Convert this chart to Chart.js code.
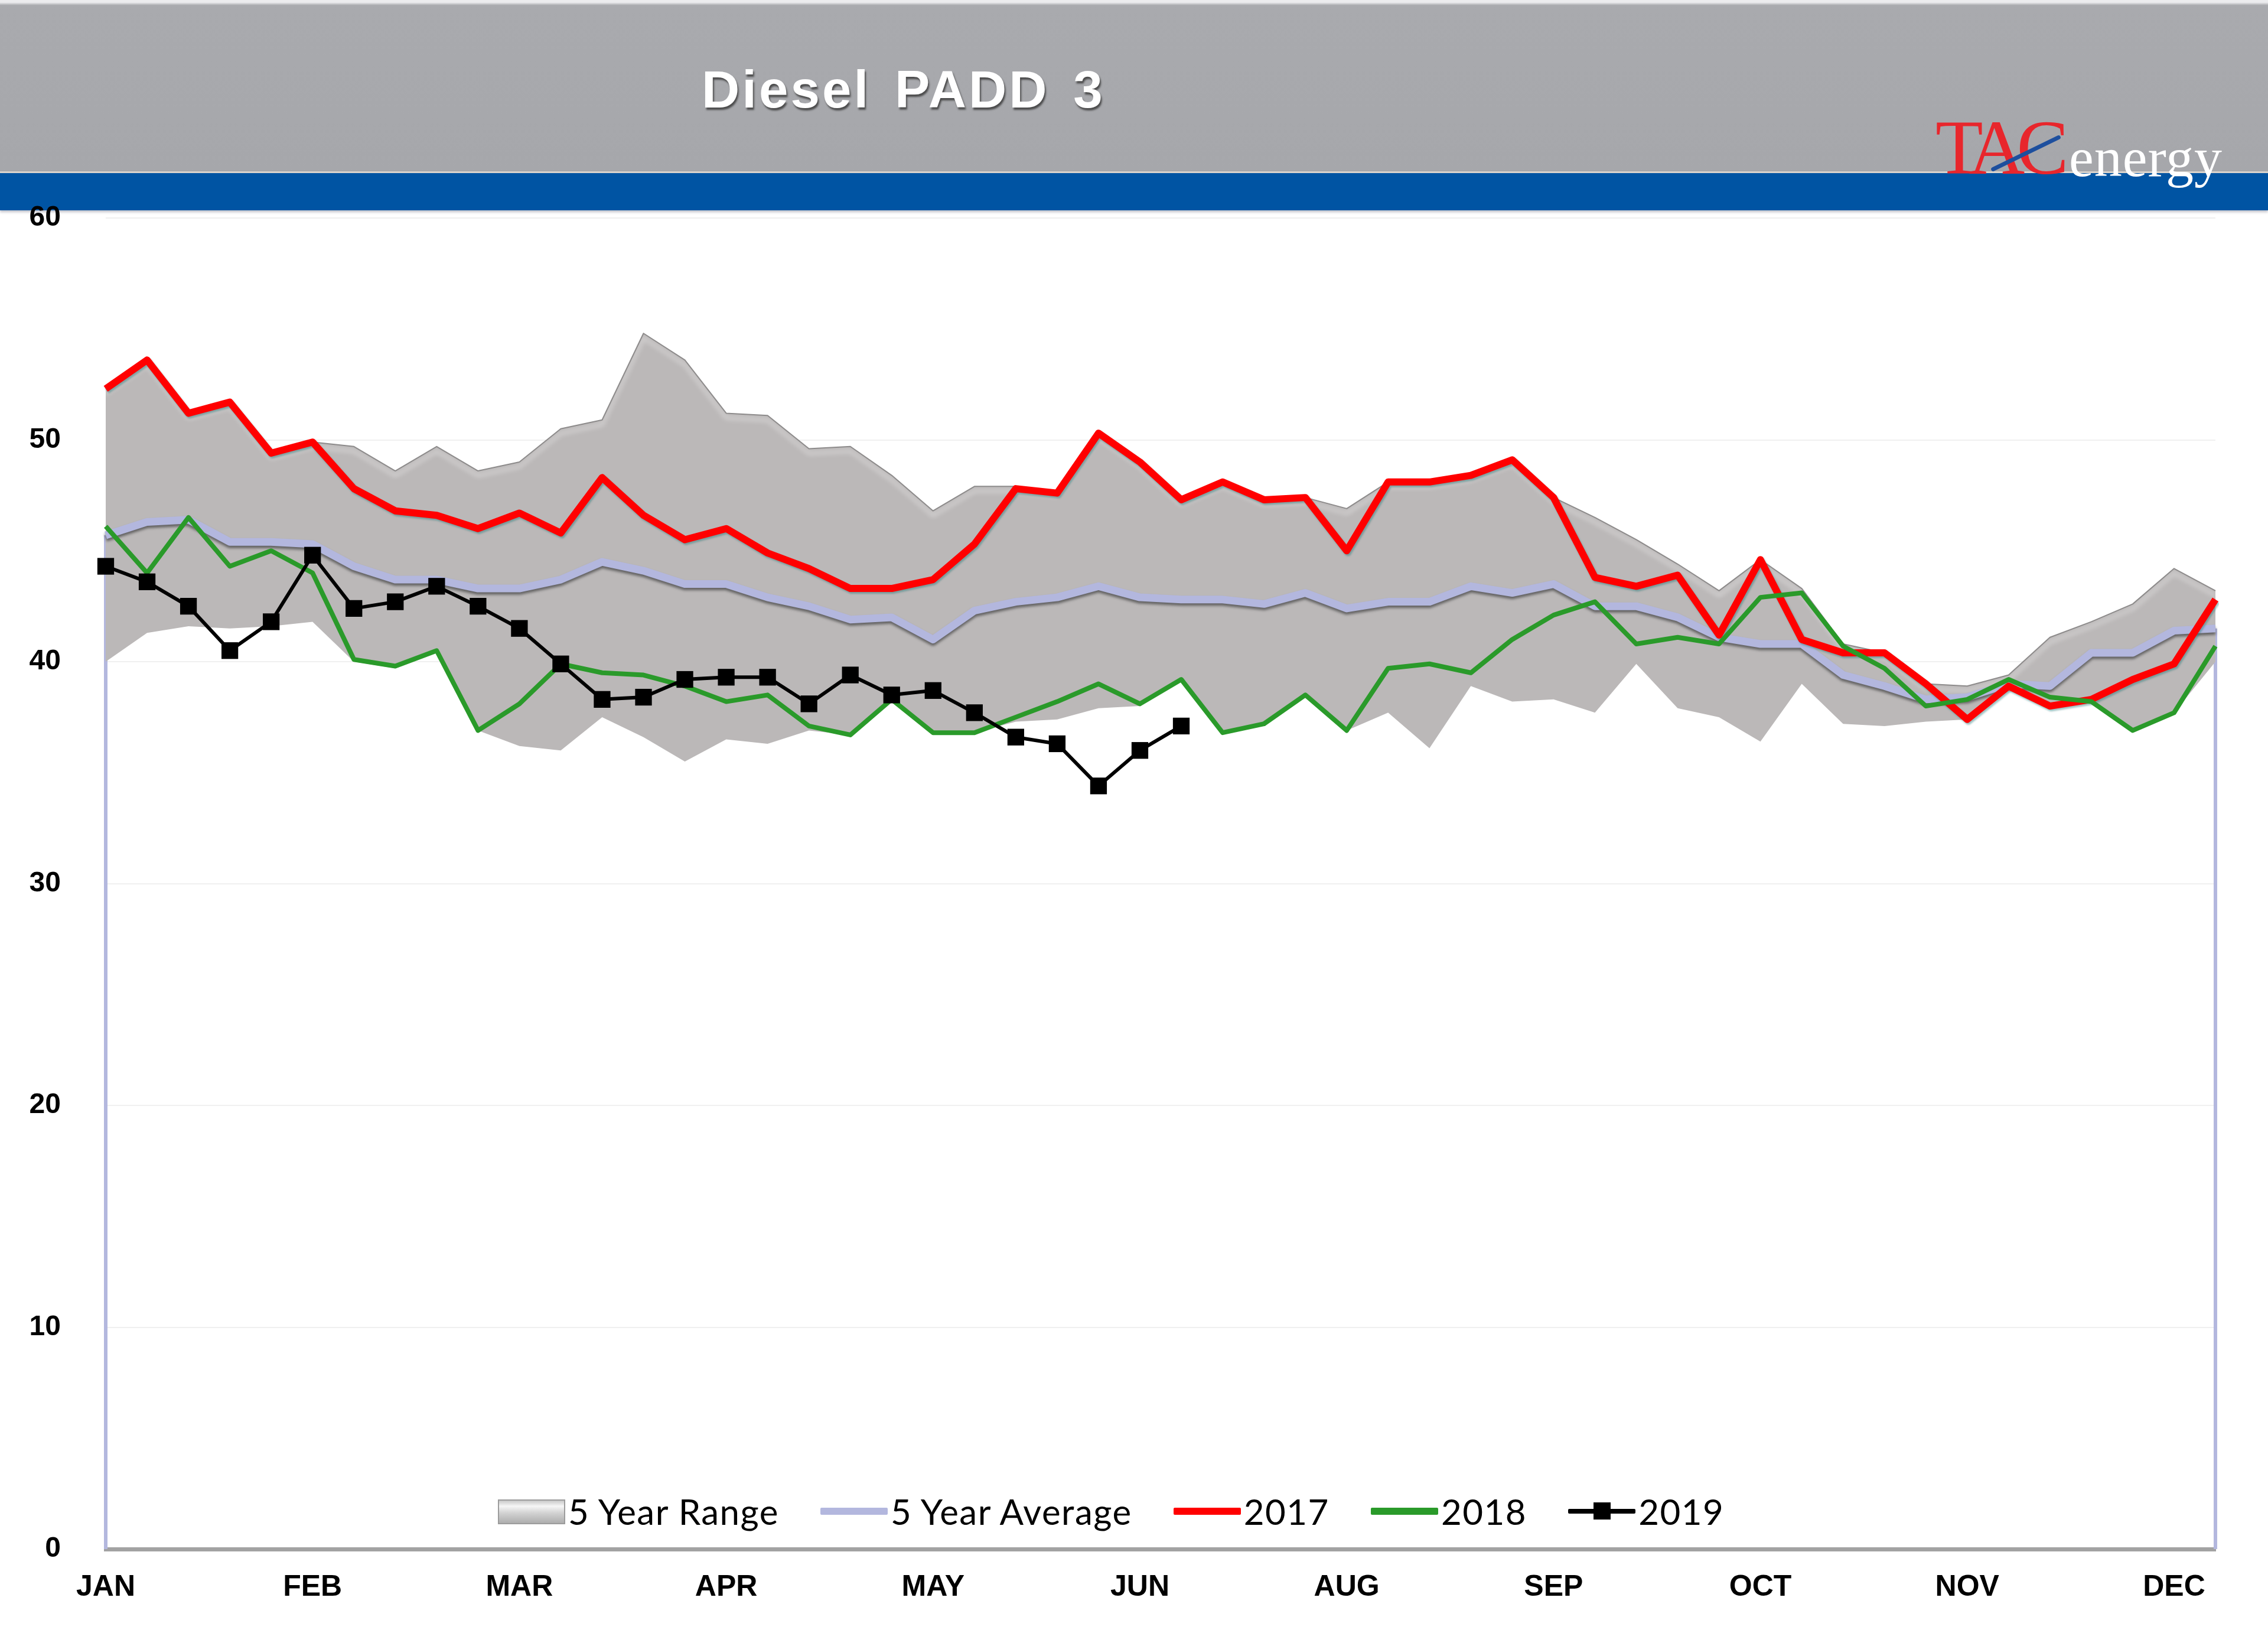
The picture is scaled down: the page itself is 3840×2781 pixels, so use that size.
<!DOCTYPE html>
<html>
<head>
<meta charset="utf-8">
<script src="https://cdn.jsdelivr.net/npm/chart.js@4.4.1/dist/chart.umd.min.js"></script>
<style>
  html, body { margin: 0; padding: 0; background: #ffffff; width: 3840px; height: 2781px; overflow: hidden; }
  #page { position: relative; width: 3840px; height: 2781px; }
  #hdr { position: absolute; left: 0; top: 0; width: 3840px; height: 290px;
         background: linear-gradient(#ececee 0px, #ececee 4px, #a9aaae 9px, #a6a7ab 100%); }
  #band { position: absolute; left: 0; top: 290px; width: 3840px; height: 63px; background: #0054a3;
          border-top: 3px solid #d9d3cc; box-shadow: 0 3px 4px rgba(120,120,140,0.45); }
  #title { position: absolute; left: 1188px; top: 107px; font: bold 89px "Liberation Sans", Arial, sans-serif;
           line-height: 89px; color: #ffffff; letter-spacing: 4px; word-spacing: 12px; white-space: pre;
           text-shadow: 2px 4px 3px rgba(60,60,60,0.85); }
  #logo { position: absolute; left: 3277px; top: 184px; height: 130px; white-space: nowrap; }
  #tac { position: absolute; left: 0; top: 0; font: 132px "Liberation Serif", "Times New Roman", serif;
         line-height: 132px; color: #e8262c; letter-spacing: -14px; }
  #energy { position: absolute; left: 226px; top: 35px; font: 94px "Liberation Serif", "Times New Roman", serif;
            line-height: 94px; color: #ffffff; letter-spacing: 1px; }
  #swoosh { position: absolute; left: 88px; top: 72px; width: 130px; height: 7px; background: #1d4f9e;
            transform: rotate(-26deg); border-radius: 4px; }
  #c { position: absolute; left: 0; top: 0; }
  #legend { position: absolute; left: 843px; top: 2528px; height: 60px; display: flex; align-items: center;
            font: 60px Lato, "Open Sans", sans-serif; letter-spacing: 1.5px; color: #000; white-space: nowrap; }
  .item { display: flex; align-items: center; margin-right: 70px; }
  .icon { position: relative; width: 114px; height: 40px; margin-right: 5px; }
  .box { position: absolute; left: 0; top: 0; width: 110px; height: 38px; border: 2px solid #9c9c9c;
         background: linear-gradient(#c9c9c9 0%, #f6f6f6 25%, #d2d2d2 55%, #aeaeae 100%); }
  .ln { position: absolute; left: 0; top: 14px; width: 114px; height: 12px; border-radius: 2px; }
  .mk { position: absolute; left: 43px; top: 5px; width: 29px; height: 29px; background: #000; }
</style>
</head>
<body>
<div id="page">
  <div id="hdr"></div>
  <div id="band"></div>
  <div id="title">Diesel PADD 3</div>
  <div id="logo"><span id="tac">TAC</span><div id="swoosh"></div><span id="energy">energy</span></div>
  <canvas id="c" width="3840" height="2781"></canvas>
  <div id="legend"></div>
</div>
<script>
// ---------- data ----------
const monthTicks = ['JAN', 'FEB', 'MAR', 'APR', 'MAY', 'JUN', 'AUG', 'SEP', 'OCT', 'NOV', 'DEC'];
const weekCount = 52;
const tickEvery = 5;
const yTicks = [0, 10, 20, 30, 40, 50, 60];
const seriesNames = ['5 Year Range', '5 Year Average', '2017', '2018', '2019'];

const rangeMax = [52.3, 53.6, 51.2, 51.7, 49.4, 49.9, 49.7, 48.6, 49.7, 48.6,
                  49.0, 50.5, 50.9, 54.8, 53.6, 51.2, 51.1, 49.6, 49.7, 48.4,
                  46.8, 47.9, 47.9, 47.7, 50.3, 49.0, 47.3, 48.1, 47.3, 47.4,
                  46.9, 48.1, 48.1, 48.4, 49.1, 47.4, 46.5, 45.5, 44.4, 43.2,
                  44.6, 43.3, 40.8, 40.4, 39.0, 38.9, 39.4, 41.1, 41.8, 42.6,
                  44.2, 43.2];
const rangeMin = [40.0, 41.3, 41.6, 41.5, 41.6, 41.8, 40.0, 39.7, 40.4, 36.9,
                  36.2, 36.0, 37.5, 36.6, 35.5, 36.5, 36.3, 36.9, 36.7, 38.3,
                  36.8, 36.8, 37.3, 37.4, 37.9, 38.0, 39.2, 36.8, 37.2, 38.5,
                  36.9, 37.7, 36.1, 38.9, 38.2, 38.3, 37.7, 39.9, 37.9, 37.5,
                  36.4, 39.0, 37.2, 37.1, 37.3, 37.4, 38.9, 38.0, 38.2, 36.9,
                  37.7, 40.0];
const avg5 = [45.7, 46.3, 46.4, 45.4, 45.4, 45.3, 44.3, 43.7, 43.7, 43.3,
              43.3, 43.7, 44.5, 44.1, 43.5, 43.5, 42.9, 42.5, 41.9, 42.0,
              41.0, 42.3, 42.7, 42.9, 43.4, 42.9, 42.8, 42.8, 42.6, 43.1,
              42.4, 42.7, 42.7, 43.4, 43.1, 43.5, 42.5, 42.5, 42.0, 41.1,
              40.8, 40.8, 39.4, 38.9, 38.3, 38.4, 39.0, 38.9, 40.4, 40.4,
              41.4, 41.5];
const y2017 = [52.3, 53.6, 51.2, 51.7, 49.4, 49.9, 47.8, 46.8, 46.6, 46.0,
               46.7, 45.8, 48.3, 46.6, 45.5, 46.0, 44.9, 44.2, 43.3, 43.3,
               43.7, 45.3, 47.8, 47.6, 50.3, 49.0, 47.3, 48.1, 47.3, 47.4,
               45.0, 48.1, 48.1, 48.4, 49.1, 47.4, 43.8, 43.4, 43.9, 41.2,
               44.6, 41.0, 40.4, 40.4, 39.0, 37.4, 38.9, 38.0, 38.3, 39.2,
               39.9, 42.8];
const y2018 = [46.1, 44.0, 46.5, 44.3, 45.0, 44.0, 40.1, 39.8, 40.5, 36.9,
               38.1, 39.9, 39.5, 39.4, 38.9, 38.2, 38.5, 37.1, 36.7, 38.3,
               36.8, 36.8, 37.5, 38.2, 39.0, 38.1, 39.2, 36.8, 37.2, 38.5,
               36.9, 39.7, 39.9, 39.5, 41.0, 42.1, 42.7, 40.8, 41.1, 40.8,
               42.9, 43.1, 40.7, 39.7, 38.0, 38.3, 39.2, 38.4, 38.2, 36.9,
               37.7, 40.7];
const y2019 = [44.3, 43.6, 42.5, 40.5, 41.8, 44.8, 42.4, 42.7, 43.4, 42.5,
               41.5, 39.9, 38.3, 38.4, 39.2, 39.3, 39.3, 38.1, 39.4, 38.5,
               38.7, 37.7, 36.6, 36.3, 34.4, 36.0, 37.1];

// category labels: month name on every 5th week, blank otherwise
const categories = Array.from({ length: weekCount }, (_, i) => (i % tickEvery === 0 ? monthTicks[i / tickEvery] : ''));

// ---------- styling helpers ----------
const AVG_COLOR = '#b3b7de';

const decor = {
  id: 'decor',
  beforeDatasetsDraw(chart) {
    // vertical edge lines of the average series down to the axis
    const { ctx, scales: { x, y } } = chart;
    ctx.save();
    ctx.strokeStyle = AVG_COLOR;
    ctx.lineWidth = 6;
    [0, avg5.length - 1].forEach((i) => {
      const px = x.getPixelForValue(i);
      ctx.beginPath();
      ctx.moveTo(px, y.getPixelForValue(avg5[i]));
      ctx.lineTo(px, y.getPixelForValue(0));
      ctx.stroke();
    });
    ctx.restore();
  },
  beforeDatasetDraw(chart, args) {
    const ds = chart.data.datasets[args.index];
    const ctx = chart.ctx;
    ctx.save();
    if (ds.shadow) {
      ctx.shadowColor = ds.shadow.color;
      ctx.shadowBlur = ds.shadow.blur;
      ctx.shadowOffsetX = ds.shadow.dx;
      ctx.shadowOffsetY = ds.shadow.dy;
    }
  },
  afterDatasetDraw(chart) {
    chart.ctx.restore();
  }
};

const chart = new Chart(document.getElementById('c'), {
  type: 'line',
  data: {
    labels: categories,
    datasets: [
      { label: seriesNames[0], data: rangeMax, fill: '+1', backgroundColor: '#bbb8b8',
        borderColor: '#8d8b8b', borderWidth: 2, pointRadius: 0, order: 10,
        shadow: { color: 'rgba(255,255,255,0.98)', blur: 8, dx: 0, dy: 8 } },
      { label: '', data: rangeMin, fill: false, borderColor: 'rgba(0,0,0,0)', borderWidth: 0,
        pointRadius: 0, order: 11 },
      { label: seriesNames[1], data: avg5, borderColor: AVG_COLOR, borderWidth: 13, pointRadius: 0, order: 4,
        shadow: { color: 'rgba(70,70,70,0.75)', blur: 4, dx: 0, dy: 4 } },
      { label: seriesNames[2], data: y2017, borderColor: '#ff0000', borderWidth: 12, pointRadius: 0, order: 3,
        shadow: { color: 'rgba(40,120,120,0.45)', blur: 3, dx: 2, dy: 3 } },
      { label: seriesNames[3], data: y2018, borderColor: '#2a9a2a', borderWidth: 8, pointRadius: 0, order: 2 },
      { label: seriesNames[4], data: y2019, borderColor: '#000000', borderWidth: 6, order: 1,
        pointStyle: 'rect', pointRadius: 20, pointBackgroundColor: '#000000', pointBorderWidth: 0 }
    ]
  },
  options: {
    responsive: false,
    devicePixelRatio: 1,
    animation: false,
    events: [],
    elements: { line: { tension: 0, borderJoinStyle: 'round', borderCapStyle: 'butt' } },
    layout: { padding: { left: 0, right: 89, top: 369, bottom: 0 } },
    plugins: { legend: { display: false }, tooltip: { enabled: false }, title: { display: false } },
    scales: {
      x: {
        type: 'category',
        offset: false,
        grid: { display: false, drawTicks: false },
        border: { display: true, color: '#a2a2a2', width: 7 },
        ticks: { autoSkip: false, maxRotation: 0, minRotation: 0, padding: 35, color: '#000',
                 font: { family: '"Liberation Sans", Arial, sans-serif', size: 50, weight: 'bold' } },
        afterFit(scale) { scale.height = 159; }
      },
      y: {
        min: 0, max: 60,
        grid: { color: '#f0f0f0', lineWidth: 2, drawTicks: false },
        border: { display: false },
        ticks: { padding: 76, color: '#000',
                 font: { family: '"Liberation Sans", Arial, sans-serif', size: 48, weight: 'bold' } },
        afterBuildTicks(scale) { scale.ticks = yTicks.map((v) => ({ value: v })); },
        afterFit(scale) { scale.width = 179; }
      }
    }
  },
  plugins: [decor]
});

// ---------- HTML legend built from the chart's datasets ----------
const legendSpec = [
  { index: 0, kind: 'box' },
  { index: 2, kind: 'line' },
  { index: 3, kind: 'line' },
  { index: 4, kind: 'line' },
  { index: 5, kind: 'marker' }
];
const legendEl = document.getElementById('legend');
legendSpec.forEach((spec) => {
  const ds = chart.data.datasets[spec.index];
  const item = document.createElement('div');
  item.className = 'item';
  const icon = document.createElement('div');
  icon.className = 'icon';
  if (spec.kind === 'box') {
    const b = document.createElement('div'); b.className = 'box'; icon.appendChild(b);
  } else {
    const l = document.createElement('div'); l.className = 'ln'; l.style.background = ds.borderColor;
    if (spec.kind === 'marker') { l.style.height = '8px'; l.style.top = '16px'; }
    icon.appendChild(l);
    if (spec.kind === 'marker') { const m = document.createElement('div'); m.className = 'mk'; icon.appendChild(m); }
  }
  const txt = document.createElement('span');
  txt.textContent = ds.label;
  item.appendChild(icon);
  item.appendChild(txt);
  legendEl.appendChild(item);
});
</script>
</body>
</html>
